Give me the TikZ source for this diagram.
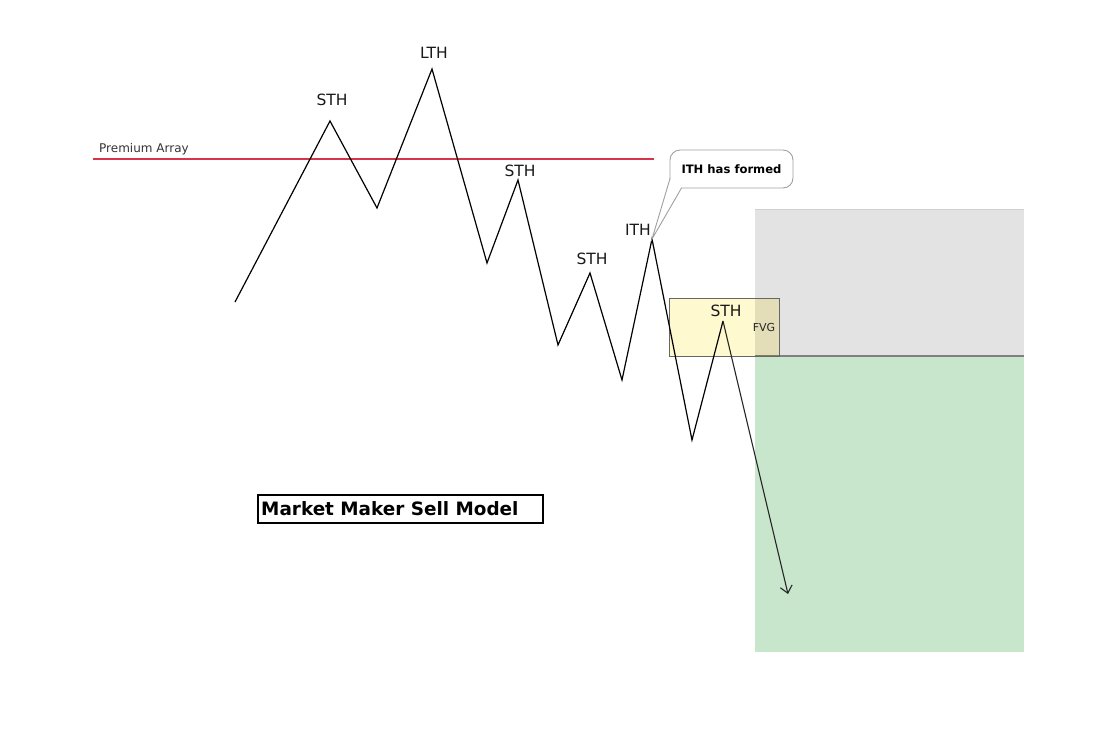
\documentclass[tikz,border=0pt]{standalone}
\usepackage{fontspec}
\setmainfont{DejaVu Sans}
\usetikzlibrary{arrows.meta,calc}
\definecolor{premred}{HTML}{D4354A}
\definecolor{greyzone}{HTML}{E3E3E3}
\definecolor{greenzone}{HTML}{C8E6CB}
\definecolor{fvgyellow}{HTML}{FFF9CF}
\definecolor{callgrey}{HTML}{A0A0A0}
\tikzset{
  price/.style={draw=black, line width=1.2pt, line join=miter},
  lbl/.style={inner sep=0pt, font=\fontsize{15.5}{15.5}\selectfont, text=black!90},
  small/.style={inner sep=0pt, font=\fontsize{12}{12}\selectfont, text=black!80},
}
\begin{document}
\begin{tikzpicture}[x=1pt,y=-1pt]
\useasboundingbox (0,0) rectangle (1093,748);
% zones
\fill[greyzone] (755,209) rectangle (1024,356);
\draw[black!18, line width=1pt] (755,209) -- (1024,209);
\fill[greenzone] (755,356) rectangle (1024,652);
\draw[black!50, line width=1.2pt] (755,356) -- (1024,356);
% FVG box
\begin{scope}[blend mode=multiply]
\fill[fvgyellow] (669,298) rectangle (779,356);
\end{scope}
\draw[black!60, line width=0.8pt] (669,298) rectangle (779,356);
\node[inner sep=0pt, font=\fontsize{11}{11}\selectfont, text=black!85] (fvg) at (764,327) {FVG};
% premium array
\coordinate (pa1) at (93,159);
\coordinate (pa2) at (654,159);
\draw[premred, line width=1.5pt] (pa1) -- (pa2);
\node[small, anchor=base west] (palbl) at (99,152) {Premium Array};
% price path
\coordinate (p0) at (235,302);
\coordinate (p1) at (330,121);
\coordinate (p2) at (377,208);
\coordinate (p3) at (432,69);
\coordinate (p4) at (487,263);
\coordinate (p5) at (518,180);
\coordinate (p6) at (558,345);
\coordinate (p7) at (590,273);
\coordinate (p8) at (622,380);
\coordinate (p9) at (652,239);
\coordinate (p10) at (692,440);
\coordinate (p11) at (723,321);
\coordinate (p12) at (788,594);
\draw[price] (p0) -- (p1) -- (p2) -- (p3) -- (p4) -- (p5) -- (p6) -- (p7) -- (p8) -- (p9) -- (p10) -- (p11);
\draw[black!85, line width=1.1pt, -{Straight Barb[length=7pt,width=12pt]}] (p11) -- (p12);
% labels
\node[lbl] (l1) at (332,100) {STH};
\node[lbl] (l3) at (434,53) {LTH};
\node[lbl] (l5) at (520,171) {STH};
\node[lbl] (l7) at (592,259) {STH};
\node[lbl] (l9) at (638,230) {ITH};
\node[lbl] (l11) at (726,311) {STH};
% callout
\node[draw=callgrey, line width=0.9pt, rounded corners=10pt, fill=white,
      minimum width=123pt, minimum height=38pt, inner sep=0pt,
      font=\fontsize{11.6}{11.6}\selectfont\bfseries] (call) at (731.5,169) {ITH has formed};
\coordinate (ca) at ($(call.south west)+(0.5,-10)$);
\coordinate (cb) at ($(call.south west)+(12,-0.5)$);
\fill[white] (ca) -- (p9) -- (cb) -- cycle;
\draw[callgrey, line width=0.9pt] (ca) -- (p9) -- (cb);
% title
\node[draw=black, line width=2pt, minimum width=285pt, minimum height=28pt, inner sep=0pt] (titlebox) at (400.5,509) {};
\node[anchor=west, inner sep=0pt, font=\fontsize{18.4}{18.4}\selectfont\bfseries] (title) at ($(titlebox.west)+(4,0)$) {Market Maker Sell Model};
\end{tikzpicture}
\end{document}
